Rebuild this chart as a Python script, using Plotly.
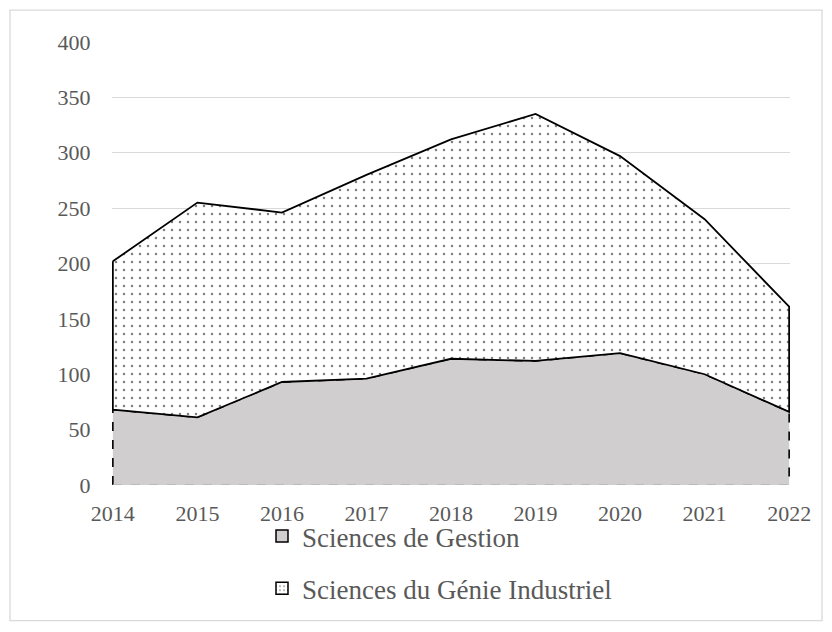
import plotly.graph_objects as go

years = [2014, 2015, 2016, 2017, 2018, 2019, 2020, 2021, 2022]
gestion = [68, 61, 93, 96, 114, 112, 119, 100, 66]
genie = [134, 194, 153, 184, 198, 223, 178, 140, 95]
y_ticks = [0, 50, 100, 150, 200, 250, 300, 350, 400]
series_names = ["Sciences de Gestion", "Sciences du Génie Industriel"]

totals = [a + b for a, b in zip(gestion, genie)]

FONT = "Liberation Serif, Times New Roman, serif"
TXT = "#595959"
GREY_FILL = "#D0CECE"

fig = go.Figure()

# Gestion area (open path so bottom edge is not stroked)
fig.add_trace(go.Scatter(
    x=[years[0]] + years + [years[-1]],
    y=[0] + gestion + [0],
    mode="lines", fill="toself", fillcolor=GREY_FILL,
    line=dict(color="black", width=1.6, dash="dash"),
    showlegend=False, hoverinfo="skip",
))

# baseline dashed grey
fig.add_trace(go.Scatter(
    x=years, y=[0] * len(years), mode="lines",
    line=dict(color="#B4B4B4", width=1.3, dash="dash"),
    showlegend=False, hoverinfo="skip",
))

# Génie area stacked above
fig.add_trace(go.Scatter(
    x=years + years[::-1] + [years[0]],
    y=totals + gestion[::-1] + [totals[0]],
    mode="lines", fill="toself", fillcolor="white",
    fillpattern=dict(shape=".", fgcolor="black", bgcolor="white", size=8, solidity=0.08),
    line=dict(color="black", width=1.8),
    showlegend=False, hoverinfo="skip",
))

# legend entries
fig.add_trace(go.Bar(
    x=[None], y=[None], name=series_names[0], legendgroup="a",
    marker=dict(color=GREY_FILL, line=dict(color="black", width=1.5)),
))
fig.add_trace(go.Bar(
    x=[None], y=[None], name=series_names[1], legendgroup="b",
    marker=dict(color="white", line=dict(color="black", width=1.5),
                pattern=dict(shape=".", fgcolor="black", bgcolor="white", size=5, solidity=0.15)),
))

OFF = 8  # page body margin
W, H = 816, 616
L, T = 112 - OFF, 42 - OFF
R = W - (790 - OFF)
B = H - (486 - OFF)
pw, ph = W - L - R, H - T - B
y0px = 486 - OFF


def px_x(p):
    return (p - OFF - L) / pw


def px_y(p):
    return (y0px - (p - OFF)) / ph


fig.update_layout(
    width=W, height=H,
    margin=dict(l=L, r=R, t=T, b=B),
    paper_bgcolor="white", plot_bgcolor="white",
    font=dict(family=FONT, color=TXT, size=22),
    xaxis=dict(
        range=[years[0] - 0.01, years[-1] + 0.01],
        tickmode="array", tickvals=years, ticktext=[str(y) for y in years],
        showgrid=False, zeroline=False, showline=False,
        ticks="outside", ticklen=9, tickcolor="rgba(0,0,0,0)",
        tickfont=dict(family=FONT, color=TXT, size=22),
    ),
    yaxis=dict(
        range=[0, 400], tickmode="array", tickvals=y_ticks,
        showgrid=True, gridcolor="#D9D9D9", gridwidth=1.3,
        zeroline=False, showline=False,
        ticks="outside", ticklen=16, tickcolor="rgba(0,0,0,0)",
        tickfont=dict(family=FONT, color=TXT, size=22),
    ),
    showlegend=True,
    legend=dict(
        orientation="v", x=px_x(262), xanchor="left",
        y=px_y(512), yanchor="top",
        font=dict(family=FONT, color=TXT, size=27),
        tracegroupgap=14, bgcolor="rgba(0,0,0,0)",
    ),
    shapes=[dict(
        type="rect", xref="paper", yref="paper",
        x0=px_x(10), x1=px_x(822),
        y0=px_y(622), y1=px_y(10),
        line=dict(color="#D9D9D9", width=1.3), fillcolor="rgba(0,0,0,0)",
        layer="below",
    )],
)

fig.write_html("out.html")
